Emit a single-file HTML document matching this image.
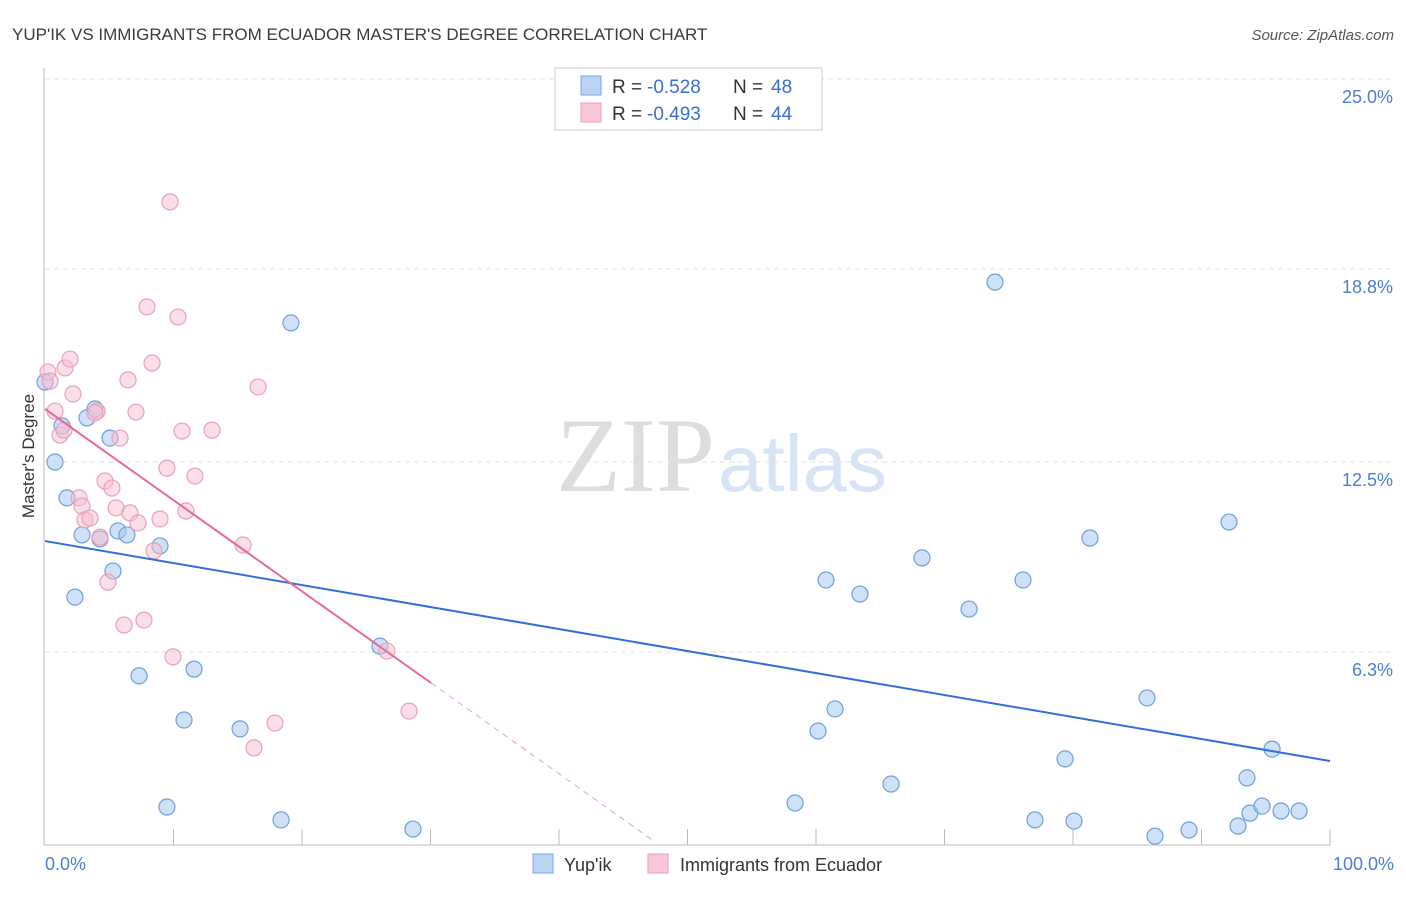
<!DOCTYPE html>
<html><head><meta charset="utf-8">
<style>
body{margin:0;background:#fff;font-family:"Liberation Sans",sans-serif;}
svg text{font-family:"Liberation Sans",sans-serif;}
</style></head>
<body>
<svg id="chart" width="1406" height="892">
<text x="12" y="40" font-size="17" fill="#3a3a3a">YUP'IK VS IMMIGRANTS FROM ECUADOR MASTER'S DEGREE CORRELATION CHART</text>
<text x="1394" y="40" font-size="15" fill="#555" text-anchor="end" font-style="italic">Source: ZipAtlas.com</text>
<text x="715" y="491" font-size="106" fill="#ddd" text-anchor="end" style="font-family:'Liberation Serif',serif">ZIP</text>
<text x="718" y="491" font-size="80" fill="#d6e4f5">atlas</text>
<g id="grid"></g>
<g id="axes"></g>
<g id="marks"></g>
<text transform="translate(34,456) rotate(-90)" font-size="17" fill="#333" text-anchor="middle">Master's Degree</text>
<text x="45" y="870" font-size="18" fill="#4a7fd4">0.0%</text>
<text x="1394" y="870" font-size="18" fill="#4a7fd4" text-anchor="end">100.0%</text>
<g>
<rect x="555" y="68" width="267" height="62" fill="#fff" stroke="#ccc"/>
<rect x="581" y="76" width="20" height="19" fill="#bcd4f4" stroke="#7aa6e0"/>
<rect x="581" y="103" width="20" height="19" fill="#f9c8d8" stroke="#eb9bb7"/>
<text x="612" y="93" font-size="19" fill="#333">R = </text>
<text x="647" y="93" font-size="19" fill="#3a6fd0">-0.528</text>
<text x="733" y="93" font-size="19" fill="#333">N = </text>
<text x="771" y="93" font-size="19" fill="#3a6fd0">48</text>
<text x="612" y="120" font-size="19" fill="#333">R = </text>
<text x="647" y="120" font-size="19" fill="#3a6fd0">-0.493</text>
<text x="733" y="120" font-size="19" fill="#333">N = </text>
<text x="771" y="120" font-size="19" fill="#3a6fd0">44</text>
</g>
<g>
<rect x="533" y="854" width="20" height="19" fill="#bcd4f4" stroke="#7aa6e0"/>
<text x="564" y="871" font-size="18" fill="#333">Yup'ik</text>
<rect x="648" y="854" width="20" height="19" fill="#f9c8d8" stroke="#eb9bb7"/>
<text x="680" y="871" font-size="18" fill="#333">Immigrants from Ecuador</text>
</g>
</svg>
<script>
const yTicks=[25.0,18.8,12.5,6.3];
const yTickLabels=["25.0%","18.8%","12.5%","6.3%"];
const xTicks=[10,20,30,40,50,60,70,80,90,100];
const blueX=[0,0.78,1.32,1.71,2.33,2.88,3.27,3.89,4.28,5.06,5.29,5.68,6.38,7.32,8.95,9.49,10.82,11.6,15.18,18.37,19.14,26.07,28.64,58.37,60.16,60.78,61.48,63.42,65.84,68.25,71.91,73.93,76.11,77.04,79.38,80.08,81.32,85.76,86.38,89.03,92.14,92.84,93.54,93.77,94.71,95.49,96.19,97.59];
const blueY=[15.11,12.5,13.68,11.33,8.09,10.12,13.94,14.23,9.99,13.28,8.94,10.25,10.12,5.52,9.76,1.24,4.08,5.74,3.79,0.82,17.04,6.49,0.52,1.37,3.72,8.65,4.44,8.19,1.99,9.37,7.7,18.37,8.65,0.82,2.81,0.78,10.02,4.8,0.29,0.49,10.54,0.62,2.19,1.04,1.27,3.13,1.11,1.11];
const pinkX=[0.23,0.39,0.78,1.17,1.56,1.95,2.18,2.65,2.88,3.11,3.5,4.05,4.28,4.67,4.9,5.21,5.53,5.84,6.15,6.61,7.08,7.24,7.7,7.94,8.33,8.48,8.95,9.49,9.73,9.96,10.35,10.66,10.97,11.67,13.0,15.41,16.26,16.58,17.9,26.61,28.33,6.46,1.48,3.89];
const pinkY=[15.44,15.14,14.16,13.38,15.57,15.86,14.72,11.33,11.06,10.61,10.67,14.16,10.05,11.88,8.58,11.65,11.0,13.28,7.18,10.84,14.13,10.51,7.34,17.56,15.73,9.6,10.64,12.3,20.99,6.14,17.23,13.51,10.9,12.04,13.54,9.79,3.17,14.95,3.98,6.33,4.37,15.18,13.54,14.1];
const blueTrend=[9.92,2.74];
const pinkTrend=[14.23,-0.2976];
const pinkSolidEnd=30.04, pinkDashEnd=47.5;

const X0=45,X1=1330,Y0=845,YT=79;
const sx=v=>X0+(X1-X0)*v/100;
const sy=v=>Y0-(Y0-YT)*v/25;
const NS="http://www.w3.org/2000/svg";
function mk(t,a,p){const e=document.createElementNS(NS,t);for(const k in a)e.setAttribute(k,a[k]);p.appendChild(e);return e;}
const grid=document.getElementById('grid'),axes=document.getElementById('axes'),marks=document.getElementById('marks');
yTicks.forEach((t,i)=>{
  const l=mk('line',{x1:X0,x2:1395,y1:sy(t),y2:sy(t),stroke:'#e2e2e2','stroke-dasharray':'5,4'},grid);
  
  
  const tx=mk('text',{x:1393,y:sy(t)+24,'font-size':18,fill:'#4a7fd4','text-anchor':'end'},grid);
  tx.textContent=yTickLabels[i];
  
  
});
let a=mk('line',{x1:44,x2:44,y1:68,y2:Y0,stroke:'#bbb'},axes);


a=mk('line',{x1:44,x2:X1,y1:Y0,y2:Y0,stroke:'#bbb'},axes);


xTicks.forEach(t=>{
  const l=mk('line',{x1:sx(t),x2:sx(t),y1:829,y2:Y0,stroke:'#bbb'},axes);
  
  
});
blueX.forEach((x,i)=>{
  const c=mk('circle',{cx:sx(x),cy:sy(blueY[i]),r:8,fill:'rgba(168,200,240,0.55)',stroke:'#6f9fdd','stroke-width':1.2},marks);
  
  
});
pinkX.forEach((x,i)=>{
  const c=mk('circle',{cx:sx(x),cy:sy(pinkY[i]),r:8,fill:'rgba(246,190,210,0.5)',stroke:'#eaa0bb','stroke-width':1.2},marks);
  
  
});
let t=mk('line',{x1:sx(0),y1:sy(blueTrend[0]),x2:sx(100),y2:sy(blueTrend[1]),stroke:'#2f6fd6','stroke-width':2},marks);


const pf=x=>pinkTrend[0]+pinkTrend[1]*x;
t=mk('line',{x1:sx(0),y1:sy(pf(0)),x2:sx(pinkSolidEnd),y2:sy(pf(pinkSolidEnd)),stroke:'#e8689a','stroke-width':2},marks);


t=mk('line',{x1:sx(pinkSolidEnd),y1:sy(pf(pinkSolidEnd)),x2:sx(pinkDashEnd),y2:sy(pf(pinkDashEnd)),stroke:'#eea0bd','stroke-width':1,'stroke-dasharray':'6,5'},marks);


</script>
</body></html>
